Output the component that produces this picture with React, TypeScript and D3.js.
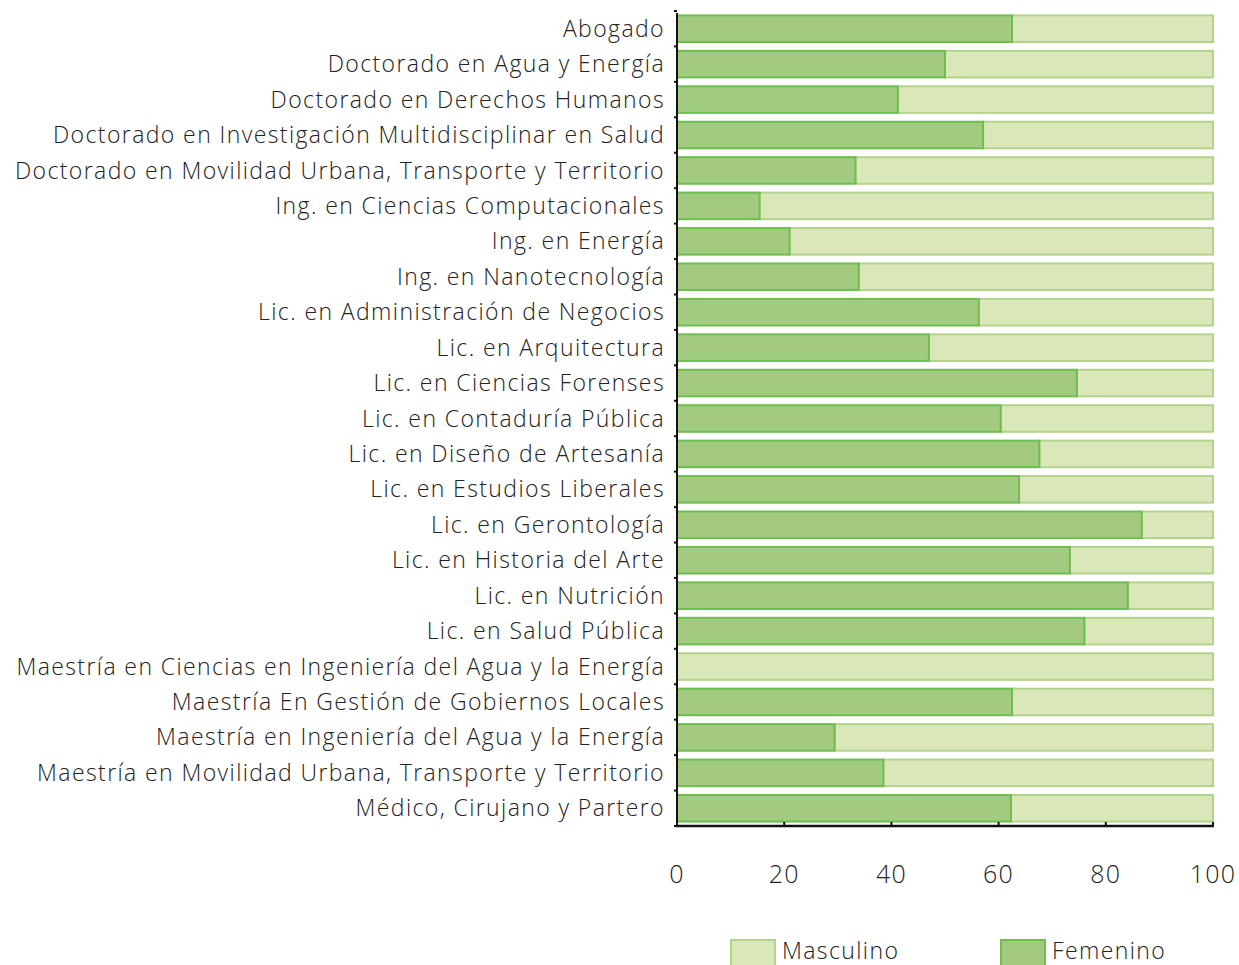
import React, { useEffect } from 'react';
import * as d3 from 'd3';

const categories = [
  'Abogado',
  'Doctorado en Agua y Energía',
  'Doctorado en Derechos Humanos',
  'Doctorado en Investigación Multidisciplinar en Salud',
  'Doctorado en Movilidad Urbana, Transporte y Territorio',
  'Ing. en Ciencias Computacionales',
  'Ing. en Energía',
  'Ing. en Nanotecnología',
  'Lic. en Administración de Negocios',
  'Lic. en Arquitectura',
  'Lic. en Ciencias Forenses',
  'Lic. en Contaduría Pública',
  'Lic. en Diseño de Artesanía',
  'Lic. en Estudios Liberales',
  'Lic. en Gerontología',
  'Lic. en Historia del Arte',
  'Lic. en Nutrición',
  'Lic. en Salud Pública',
  'Maestría en Ciencias en Ingeniería del Agua y la Energía',
  'Maestría En Gestión de Gobiernos Locales',
  'Maestría en Ingeniería del Agua y la Energía',
  'Maestría en Movilidad Urbana, Transporte y Territorio',
  'Médico, Cirujano y Partero',
];

const femenino = [
  62.5, 50, 41.2, 57.1, 33.3, 15.4, 21, 33.9, 56.3, 47, 74.6, 60.4, 67.6, 63.8,
  86.7, 73.3, 84.1, 76, 0, 62.5, 29.4, 38.5, 62.3,
];
const masculino = femenino.map((f) => 100 - f);

const xTicks = [0, 20, 40, 60, 80, 100];

const width = 1239;
const height = 965;
const margin = { top: 11, right: 26, bottom: 139, left: 677 };

const colors = {
  femFill: '#a3cb7f',
  femStroke: '#6dbd4f',
  masFill: '#d9e7b9',
  masStroke: '#b3d38d',
};

const font = "'Open Sans', sans-serif";

export default function App() {
  useEffect(() => {
    document.body.style.margin = '0';
  }, []);

  const x = d3
    .scaleLinear()
    .domain([0, 100])
    .range([margin.left, width - margin.right]);

  const y = d3
    .scaleBand<string>()
    .domain(categories)
    .range([margin.top, height - margin.bottom])
    .paddingInner(0.25)
    .paddingOuter(0.125);

  const step = y.step();
  const axisBottomY = height - margin.bottom;

  return (
    <svg width={width} height={height} style={{ display: 'block' }} fontFamily={font}>
      {categories.map((c, i) => {
        const yy = y(c) as number;
        const bh = y.bandwidth();
        return (
          <g key={c}>
            <rect
              x={x(femenino[i])}
              y={yy}
              width={x(femenino[i] + masculino[i]) - x(femenino[i])}
              height={bh}
              fill={colors.masFill}
              stroke={colors.masStroke}
              strokeWidth={2}
            />
            {femenino[i] > 0 ? (
              <rect
                x={x(0)}
                y={yy}
                width={x(femenino[i]) - x(0)}
                height={bh}
                fill={colors.femFill}
                stroke={colors.femStroke}
                strokeWidth={2}
              />
            ) : null}
            <text
              x={margin.left - 12}
              y={yy + bh / 2}
              dy="0.35em"
              textAnchor="end"
              fontSize={23}
              fontWeight={300}
              letterSpacing={1.4}
              fill="#222"
            >
              {c}
            </text>
          </g>
        );
      })}

      {/* y axis */}
      <line x1={x(0)} x2={x(0)} y1={margin.top + 2} y2={axisBottomY} stroke="#111" strokeWidth={2} />
      {d3.range(categories.length + 1).map((i) => {
        const yy = margin.top + y.paddingOuter() * step - (y.paddingInner() * step) / 2 + i * step;
        return (
          <line key={'yt' + i} x1={x(0) - 3} x2={x(0)} y1={yy} y2={yy} stroke="#111" strokeWidth={2} />
        );
      })}

      {/* x axis */}
      <line x1={x(0) - 1} x2={x(100) + 1} y1={axisBottomY} y2={axisBottomY} stroke="#111" strokeWidth={2.5} />
      {xTicks.map((t) => (
        <g key={'xt' + t}>
          <line x1={x(t)} x2={x(t)} y1={axisBottomY} y2={axisBottomY - 4} stroke="#111" strokeWidth={2} />
          <text
            x={x(t)}
            y={axisBottomY + 57}
            textAnchor="middle"
            fontSize={25}
            fontWeight={300}
            letterSpacing={1.2}
            fill="#222"
          >
            {t}
          </text>
        </g>
      ))}

      {/* legend */}
      <rect x={731} y={940} width={44} height={26} fill={colors.masFill} stroke={colors.masStroke} strokeWidth={2} />
      <text x={782} y={959} fontSize={23} fontWeight={300} letterSpacing={1.4} fill="#222">
        Masculino
      </text>
      <rect x={1001} y={940} width={44} height={26} fill={colors.femFill} stroke={colors.femStroke} strokeWidth={2} />
      <text x={1052} y={959} fontSize={23} fontWeight={300} letterSpacing={1.4} fill="#222">
        Femenino
      </text>
    </svg>
  );
}
